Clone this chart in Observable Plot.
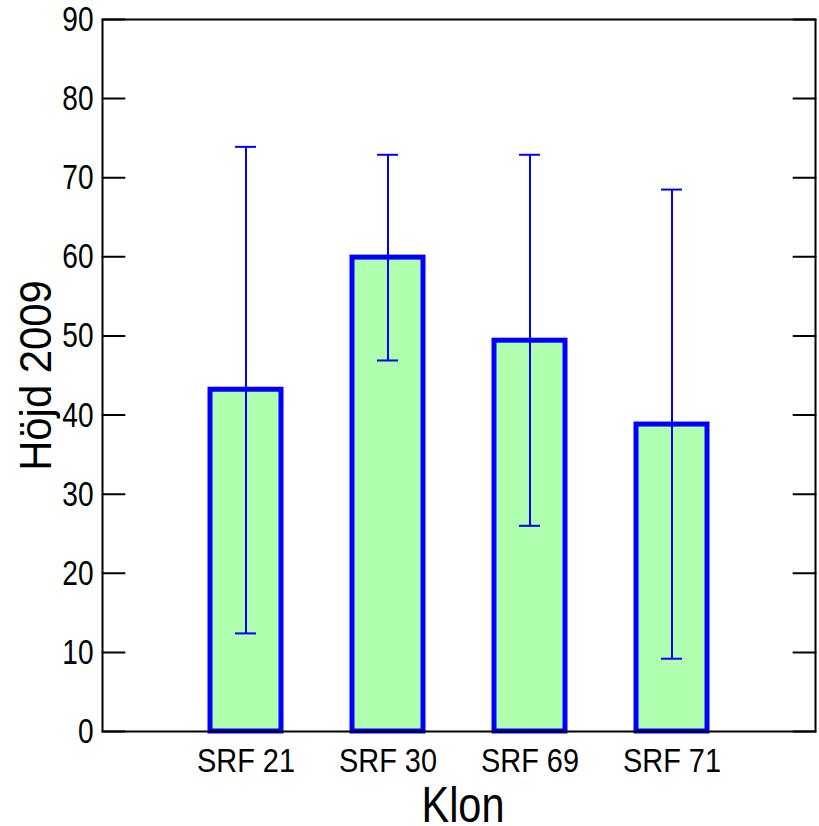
<!DOCTYPE html>
<html>
<head>
<meta charset="utf-8">
<script src="https://cdn.jsdelivr.net/npm/d3@7"></script>
<script src="https://cdn.jsdelivr.net/npm/@observablehq/plot@0.6"></script>
<style>
  html, body { margin: 0; padding: 0; background: #fff; }
</style>
</head>
<body>
<div id="chart"></div>
<script>
const categories = ["SRF 21", "SRF 30", "SRF 69", "SRF 71"];
const means = [43.2, 59.9, 49.4, 38.8];
const lower = [12.4, 46.9, 26.0, 9.2];
const upper = [73.9, 72.9, 72.9, 68.5];
const yTicks = [0, 10, 20, 30, 40, 50, 60, 70, 80, 90];
const xLabel = "Klon";
const yLabel = "Höjd 2009";

const data = categories.map((c, i) => ({c, mean: means[i], lo: lower[i], hi: upper[i]}));

const FONT = "'Liberation Sans', Arial, sans-serif";
const tickLine = {draw(ctx, l) { ctx.moveTo(0, 0); ctx.lineTo(0, -l); }};

const chart = Plot.plot({
  width: 819,
  height: 826,
  marginLeft: 102,
  marginRight: 4,
  marginTop: 19,
  marginBottom: 95,
  style: {fontFamily: FONT, background: "white", color: "black"},
  x: {type: "band", domain: categories, paddingInner: 0.5, paddingOuter: 0.75, align: 0.5},
  y: {domain: [0, 90]},
  marks: [
    Plot.barY(data, {x: "c", y: "mean", fill: "#afffaf", stroke: "#0000ff", strokeWidth: 5}),
    Plot.ruleX(data, {x: "c", y1: "lo", y2: "hi", stroke: "#0000ff", strokeWidth: 2}),
    Plot.tickY(data, {x: "c", y: "lo", stroke: "#0000ff", strokeWidth: 2, inset: 25}),
    Plot.tickY(data, {x: "c", y: "hi", stroke: "#0000ff", strokeWidth: 2, inset: 25}),
    Plot.frame({stroke: "black", strokeWidth: 2}),
    Plot.vector(yTicks, {y: d => d, frameAnchor: "left", length: 22, rotate: 90, anchor: "start", shape: tickLine, stroke: "black", strokeWidth: 2}),
    Plot.vector(yTicks, {y: d => d, frameAnchor: "right", length: 22, rotate: -90, anchor: "start", shape: tickLine, stroke: "black", strokeWidth: 2}),
    Plot.axisY(yTicks, {anchor: "left", tickSize: 0, tickPadding: 9, fontSize: 36, label: null}),
    Plot.axisX({anchor: "bottom", tickSize: 0, tickPadding: 16, fontSize: 34, label: null}),
    Plot.text([yLabel], {text: d => d, frameAnchor: "left", dx: -66, rotate: -90, fontSize: 45, fill: "black", textAnchor: "middle", lineAnchor: "middle"}),
    Plot.text([xLabel], {text: d => d, frameAnchor: "bottom", dx: 4, dy: 90, fontSize: 50, fill: "black", textAnchor: "middle", lineAnchor: "bottom"})
  ]
});

// condensed look of the original typeface: squeeze glyphs horizontally
chart.querySelectorAll("text").forEach(t => {
  const tr = t.getAttribute("transform") || "";
  const txt = t.textContent;
  let s = 0.83;
  if (tr.includes("rotate")) s = 0.93;
  else if (/^\d+$/.test(txt)) s = 0.78;
  else if (txt.startsWith("SRF")) s = 0.85;
  t.setAttribute("transform", (tr + ` scale(${s},1)`).trim());
});

document.getElementById("chart").appendChild(chart);
</script>
</body>
</html>
